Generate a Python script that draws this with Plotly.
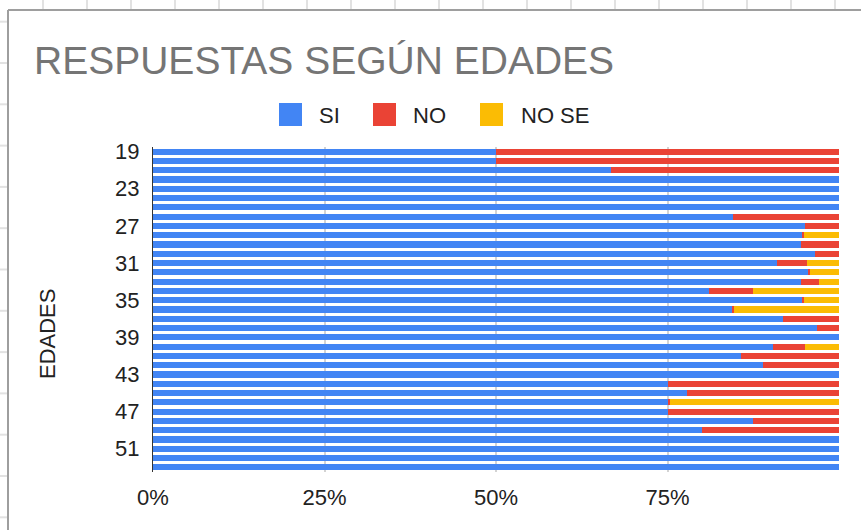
import plotly.graph_objects as go

# ---- data ----
ages = list(range(19, 54))
si = [50, 50, 66.7, 100, 100, 100, 100, 84.6, 95, 94.6, 94.5, 96.5, 91, 95.5, 94.5, 81,
      94.6, 84.4, 91.8, 96.8, 100, 90.4, 85.7, 88.9, 100, 75, 77.8, 75, 75, 87.5, 80,
      100, 100, 100, 100]
no = [50, 50, 33.3, 0, 0, 0, 0, 15.4, 5, 0.3, 5.5, 3.5, 4.3, 0.3, 2.6, 6.5,
      0.3, 0.3, 8.2, 3.2, 0, 4.6, 14.3, 11.1, 0, 25, 22.2, 0.3, 25, 12.5, 20,
      0, 0, 0, 0]
no_se = [0, 0, 0, 0, 0, 0, 0, 0, 0, 5.1, 0, 0, 4.7, 4.2, 2.9, 12.5,
         5.1, 15.3, 0, 0, 0, 5.0, 0, 0, 0, 0, 0, 24.7, 0, 0, 0,
         0, 0, 0, 0]
series_names = ["SI", "NO", "NO SE"]
series_colors = ["#4285F4", "#EA4335", "#FBBC04"]
x_tick_vals = [0, 25, 50, 75, 100]
x_tick_text = ["0%", "25%", "50%", "75%", ""]
y_tick_vals = list(range(19, 54, 4))
title_text = "RESPUESTAS SEGÚN EDADES"
y_title = "EDADES"

# ---- layout geometry (pixels) ----
W_FIG, H_FIG = 861, 530
L, R, T, B = 153, 22, 147, 58
PW = W_FIG - L - R
PH = H_FIG - T - B


def px(x):
    return (x - L) / PW


def py(y):
    return (T + PH - y) / PH


FONT = "Liberation Sans, Arial, sans-serif"

fig = go.Figure()
for name, vals, col in zip(series_names, [si, no, no_se], series_colors):
    fig.add_trace(go.Bar(y=ages, x=vals, name=name, orientation="h",
                         marker=dict(color=col, line=dict(width=0)),
                         width=0.65, showlegend=False))

shapes = []
# spreadsheet grid behind the chart frame
for k in range(20):
    gx = 43 + 44 * k
    if gx > W_FIG:
        break
    shapes.append(dict(type="line", xref="paper", yref="paper",
                       x0=px(gx), x1=px(gx), y0=py(0), y1=py(9),
                       line=dict(color="#e2e2e2", width=2), layer="below"))
for k in range(20):
    gy = 21.7 + 41.3 * k
    if gy > H_FIG:
        break
    shapes.append(dict(type="line", xref="paper", yref="paper",
                       x0=px(0), x1=px(7), y0=py(gy), y1=py(gy),
                       line=dict(color="#e2e2e2", width=2), layer="below"))
# chart frame
shapes.append(dict(type="line", xref="paper", yref="paper",
                   x0=px(8), x1=px(W_FIG + 5), y0=py(10), y1=py(10),
                   line=dict(color="#9e9e9e", width=2)))
shapes.append(dict(type="line", xref="paper", yref="paper",
                   x0=px(8), x1=px(8), y0=py(10), y1=py(H_FIG + 5),
                   line=dict(color="#9e9e9e", width=2)))

# custom legend
annotations = []
leg_boxes = [(279, 319), (373, 413), (480, 521)]
for (bx, tx), name, col in zip(leg_boxes, series_names, series_colors):
    shapes.append(dict(type="rect", xref="paper", yref="paper",
                       x0=px(bx), x1=px(bx + 23), y0=py(103), y1=py(126),
                       fillcolor=col, line=dict(width=0)))
    annotations.append(dict(text=name, xref="paper", yref="paper",
                            x=px(tx - 2), y=py(115), xanchor="left", yanchor="middle",
                            showarrow=False, font=dict(family=FONT, size=22, color="#222222")))

annotations.append(dict(text=y_title, xref="paper", yref="paper",
                        x=px(47), y=py(334), xanchor="center", yanchor="middle",
                        textangle=-90, showarrow=False,
                        font=dict(family=FONT, size=22, color="#222222")))

fig.update_layout(
    width=W_FIG, height=H_FIG,
    margin=dict(l=L, r=R, t=T, b=B),
    barmode="stack",
    paper_bgcolor="white", plot_bgcolor="white",
    title=dict(text=title_text, x=34 / W_FIG, xanchor="left",
               y=1 - 60 / H_FIG, yanchor="middle", yref="container",
               font=dict(family=FONT, size=39, color="#757575")),
    shapes=shapes, annotations=annotations,
    xaxis=dict(range=[0, 100], tickvals=x_tick_vals, ticktext=x_tick_text,
               showgrid=True, gridcolor="#d3d3d3", gridwidth=1.5,
               zeroline=False, showline=False, ticklabelstandoff=10,
               tickfont=dict(family=FONT, size=22, color="#222222")),
    yaxis=dict(range=[53.5, 18.5], tickvals=y_tick_vals, showgrid=False,
               zeroline=False, showline=True, linecolor="#333333", linewidth=1,
               ticklabelstandoff=8,
               tickfont=dict(family=FONT, size=22, color="#222222")),
)

fig.write_html("out.html", config={"displayModeBar": False},
               post_script="document.body.style.margin='0';")
